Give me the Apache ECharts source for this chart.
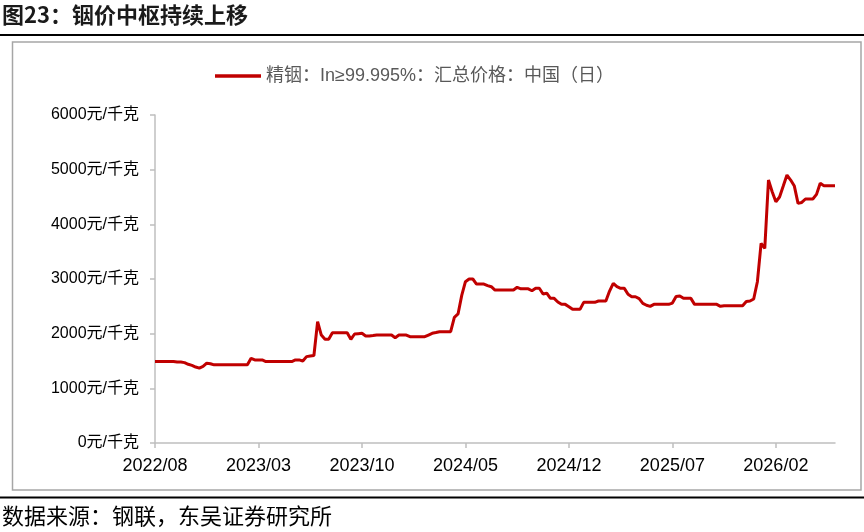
<!DOCTYPE html>
<html>
<head>
<meta charset="utf-8">
<script src="https://cdn.jsdelivr.net/npm/echarts@6/dist/echarts.min.js"></script>
<style>
html,body{margin:0;padding:0;background:#fff;}
#chart{width:864px;height:532px;}
</style>
</head>
<body>
<div id="chart"></div>
<script>
// Time span: weekly points (4 per month) from 2022/08 to 2026/06
var startYear = 2022, startMonth = 8, monthCount = 46, perMonth = 4;
var tickLabels = ['2022/08','2023/03','2023/10','2024/05','2024/12','2025/07','2026/02'];
var seriesName = '精铟：In≥99.995%：汇总价格：中国（日）';
// Price, 元/千克
var indiumPrice = [
  1490,1490,1490,1490,1490,1490,1480,1480,1470,1440,
  1420,1390,1370,1400,1460,1450,1430,1430,1430,1430,
  1430,1430,1430,1430,1430,1430,1550,1520,1520,1520,
  1490,1490,1490,1490,1490,1490,1490,1490,1520,1520,
  1500,1580,1590,1600,2220,1975,1900,1900,2017,2017,
  2017,2017,2017,1897,1994,2000,2006,1957,1957,1965,
  1975,1975,1975,1975,1975,1926,1975,1975,1975,1944,
  1944,1944,1944,1944,1975,2006,2020,2036,2036,2036,
  2036,2300,2360,2700,2950,3000,3000,2908,2908,2908,
  2880,2859,2798,2798,2798,2798,2798,2798,2848,2820,
  2820,2820,2785,2830,2830,2725,2740,2646,2646,2580,
  2536,2536,2493,2445,2445,2445,2573,2573,2573,2573,
  2597,2597,2597,2780,2921,2860,2829,2829,2720,2676,
  2676,2640,2555,2520,2500,2536,2536,2536,2536,2536,
  2560,2680,2690,2646,2646,2646,2536,2536,2536,2536,
  2536,2536,2536,2500,2511,2511,2511,2511,2511,2511,
  2590,2597,2634,2950,3650,3560,4810,4596,4413,4500,
  4700,4902,4810,4700,4384,4400,4463,4463,4463,4548,
  4750,4706,4706,4706,4706
];

var categories = [];
for (var m = 0; m <= monthCount; m++) {
  var y = startYear + Math.floor((startMonth - 1 + m) / 12);
  var mo = (startMonth - 1 + m) % 12 + 1;
  for (var w = 1; w <= perMonth; w++) {
    if (categories.length < indiumPrice.length) {
      categories.push(y + '/' + (mo < 10 ? '0' + mo : mo) + '/' + w);
    }
  }
}

var chart = echarts.init(document.getElementById('chart'), null, {renderer: 'canvas'});
var cjk = '"Liberation Sans", "Noto Sans CJK SC", sans-serif';
chart.setOption({
  animation: false,
  backgroundColor: '#ffffff',
  grid: {left: 155, right: 29, top: 115, bottom: 89, containLabel: false},
  legend: {
    data: [{name: seriesName, icon: 'rect'}],
    left: 210, top: 62,
    itemWidth: 46, itemHeight: 3.5,
    itemGap: 6,
    textStyle: {color: '#595959', fontSize: 18, fontFamily: cjk}
  },
  xAxis: {
    type: 'category',
    data: categories,
    boundaryGap: false,
    axisLine: {lineStyle: {color: '#bfbfbf', width: 1.5}},
    axisTick: {show: true, interval: perMonth * 7 - 1, length: 5, lineStyle: {color: '#bfbfbf', width: 1.5}},
    axisLabel: {
      interval: perMonth * 7 - 1,
      margin: 14,
      color: '#000',
      fontSize: 18,
      fontFamily: cjk,
      formatter: function (v) { return v.slice(0, 7); }
    },
    splitLine: {show: false}
  },
  yAxis: {
    type: 'value',
    min: 0, max: 6000, interval: 1000,
    axisLine: {show: true, lineStyle: {color: '#bfbfbf', width: 1.5}},
    axisTick: {show: true, length: 5, lineStyle: {color: '#bfbfbf', width: 1.5}},
    axisLabel: {
      margin: 16, color: '#000', fontSize: 16, fontFamily: cjk,
      formatter: function (v) { return v + '元/千克'; }
    },
    splitLine: {show: false}
  },
  series: [{
    name: seriesName,
    type: 'line',
    data: indiumPrice,
    symbol: 'none',
    lineStyle: {color: '#C00000', width: 3},
    itemStyle: {color: '#C00000'}
  }],
  graphic: [
    {type: 'text', left: 2, top: 4, style: {text: '图23：铟价中枢持续上移', fill: '#1a1a1a', font: 'bold 22px "Noto Sans CJK SC", sans-serif'}},
    {type: 'line', shape: {x1: 0, y1: 35, x2: 864, y2: 35}, style: {stroke: '#000', lineWidth: 2}},
    {type: 'rect', shape: {x: 12.5, y: 42, width: 848.5, height: 448}, style: {fill: 'none', stroke: '#a6a6a6', lineWidth: 1.5}},
    {type: 'line', shape: {x1: 0, y1: 497.5, x2: 864, y2: 497.5}, style: {stroke: '#000', lineWidth: 2}},
    {type: 'text', left: 2, top: 505, style: {text: '数据来源：钢联，东吴证券研究所', fill: '#000', font: '22px "Noto Sans CJK SC", sans-serif'}}
  ]
});
</script>
</body>
</html>
